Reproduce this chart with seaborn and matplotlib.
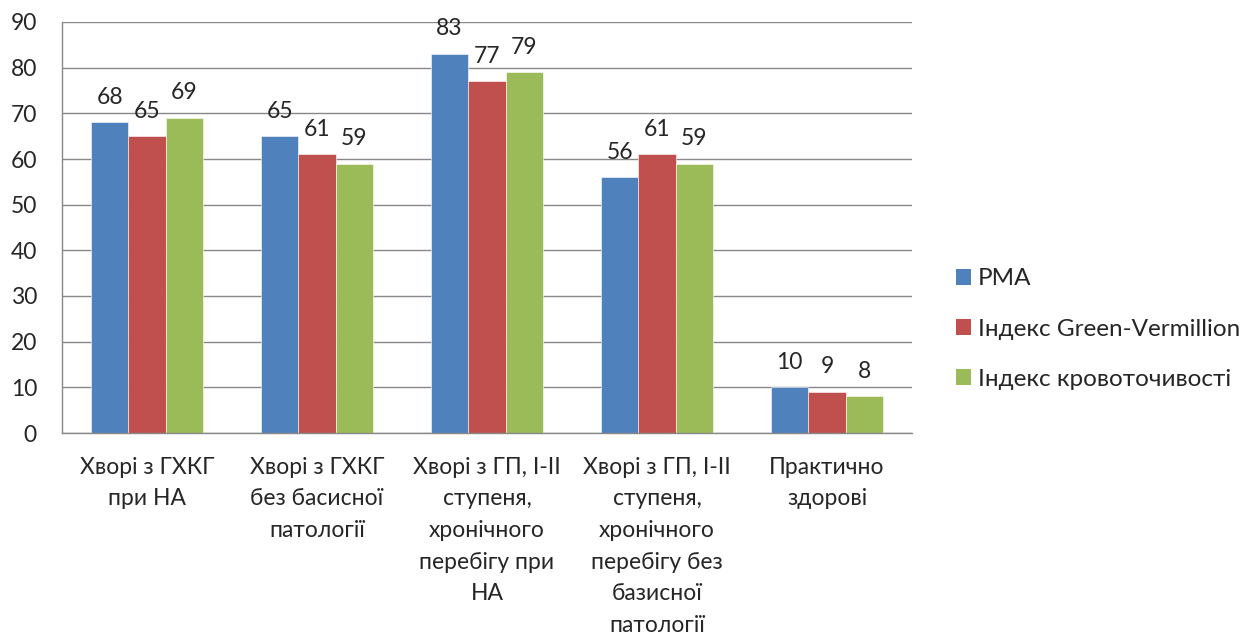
import matplotlib
matplotlib.use("Agg")
import matplotlib.pyplot as plt
from matplotlib.patches import Patch
import seaborn as sns
import pandas as pd

categories = [
    "Хворі з ГХКГ\nпри НА",
    "Хворі з ГХКГ\nбез басисної\nпатології",
    "Хворі з ГП, І-ІІ\nступеня,\nхронічного\nперебігу при\nНА",
    "Хворі з ГП, І-ІІ\nступеня,\nхронічного\nперебігу без\nбазисної\nпатології",
    "Практично\nздорові",
]
series_names = ["РМА", "Індекс Green-Vermillion", "Індекс кровоточивості"]
pma = [68, 65, 83, 56, 10]
green_vermillion = [65, 61, 77, 61, 9]
bleeding = [69, 59, 79, 59, 8]
colors = ["#4F81BD", "#C0504D", "#9BBB59"]
y_ticks = [0, 10, 20, 30, 40, 50, 60, 70, 80, 90]

rows = []
for name, vals in zip(series_names, [pma, green_vermillion, bleeding]):
    for cat, v in zip(categories, vals):
        rows.append({"category": cat, "series": name, "value": v})
df = pd.DataFrame(rows)

sns.set_style("white")
plt.rcParams["font.family"] = ["Lato", "DejaVu Sans"]
FS = 16.5
LEG_FS = 17.5

fig = plt.figure(figsize=(12.52, 6.4), dpi=100)
ax = fig.add_axes([62 / 1252, 1 - 433 / 640, 850 / 1252, 411 / 640])

sns.barplot(data=df, x="category", y="value", hue="series", order=categories,
            hue_order=series_names, palette=colors, width=0.66, gap=0,
            saturation=1, ax=ax, legend=False, edgecolor="white", linewidth=0.4)

for cont in ax.containers:
    ax.bar_label(cont, fmt="%d", padding=10.5, fontsize=FS)

ax.set_ylim(0, 90)
ax.set_xlim(-0.5, len(categories) - 0.5)
ax.set_yticks(y_ticks)
ax.set_yticklabels([str(t) for t in y_ticks], fontsize=FS)
ax.yaxis.grid(True, color="#888888", linewidth=1.0)
ax.set_axisbelow(True)
ax.set_xlabel("")
ax.set_ylabel("")

# category labels centered, ticks on the category boundaries
ax.set_xticks(range(len(categories)))
ax.set_xticklabels(categories, fontsize=FS, linespacing=1.63, va="top")
ax.tick_params(axis="x", which="major", length=0, pad=17)
ax.set_xticks([i - 0.5 for i in range(len(categories) + 1)], minor=True)
ax.tick_params(axis="x", which="minor", length=7, color="#888888", width=1, direction="out")
ax.tick_params(axis="y", length=7, color="#888888", width=1, direction="out", pad=11)

for side in ["top", "right"]:
    ax.spines[side].set_visible(False)
for side in ["left", "bottom"]:
    ax.spines[side].set_color("#888888")
    ax.spines[side].set_linewidth(1.0)

handles = [Patch(facecolor=c, edgecolor="none") for c in colors]
fig.legend(handles, series_names, loc="center left", bbox_to_anchor=(934 / 1252, 1 - 329 / 640),
           frameon=False, fontsize=LEG_FS, handlelength=0.62, handleheight=0.62,
           handletextpad=0.3, labelspacing=1.2)

fig.savefig("out.png", dpi=100)
